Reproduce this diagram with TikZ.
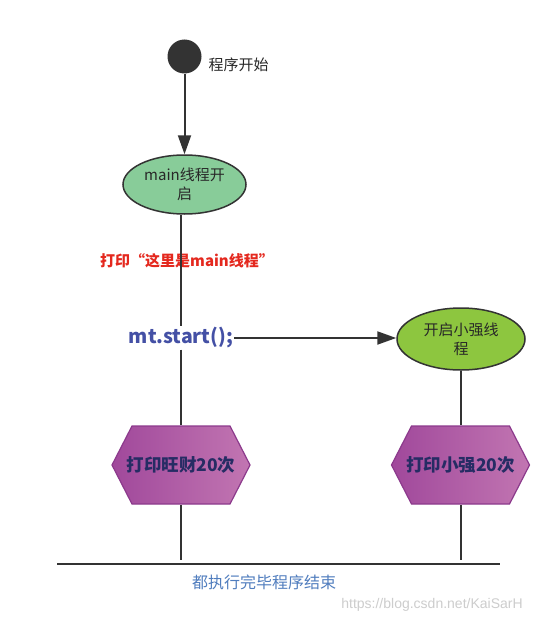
\documentclass[tikz,border=0pt]{standalone}
\usepackage{fontspec}
\setmainfont{Noto Sans CJK SC}
\newfontfamily\wmfont{Liberation Sans}
\usetikzlibrary{shapes.geometric,arrows.meta}
\definecolor{linec}{RGB}{51,51,51}
\definecolor{dotc}{RGB}{51,51,51}
\definecolor{textc}{RGB}{40,40,40}
\definecolor{greenA}{RGB}{136,204,153}
\definecolor{greenB}{RGB}{141,198,63}
\definecolor{hexl}{RGB}{160,72,155}
\definecolor{hexr}{RGB}{194,118,178}
\definecolor{hexb}{RGB}{140,58,140}
\definecolor{hext}{RGB}{38,44,100}
\definecolor{redc}{RGB}{228,40,30}
\definecolor{mtc}{RGB}{68,80,165}
\definecolor{endc}{RGB}{80,125,190}
\definecolor{wmc}{RGB}{205,205,205}
\begin{document}
\begin{tikzpicture}[x=1pt,y=-1pt,
  line/.style={draw=linec, line width=2pt},
  arr/.style={line, -{Triangle[length=19pt,width=13pt]}},
  startdot/.style={circle, fill=dotc, minimum size=34pt, inner sep=0},
  oval/.style={ellipse, draw=linec, line width=1.5pt, minimum width=123pt, minimum height=59pt, align=center, text=textc, font=\fontsize{15}{19}\selectfont, inner sep=0},
  hexa/.style={rectangle, minimum width=140pt, minimum height=80pt, inner sep=0, text=hext, font=\bfseries\fontsize{17.5}{20}\selectfont,
    path picture={
      \shadedraw[left color=hexl, right color=hexr, draw=hexb, line width=1.2pt]
        ([xshift=21pt,yshift=-1pt]path picture bounding box.north west) --
        ([xshift=-21pt,yshift=-1pt]path picture bounding box.north east) --
        ([xshift=-1pt]path picture bounding box.east) --
        ([xshift=-21pt,yshift=1pt]path picture bounding box.south east) --
        ([xshift=21pt,yshift=1pt]path picture bounding box.south west) --
        ([xshift=1pt]path picture bounding box.west) -- cycle;
    }},
  redtext/.style={text=redc, font=\bfseries\fontsize{15}{18}\selectfont, inner sep=1pt},
  mtstyle/.style={text=mtc, font=\bfseries\fontsize{19.5}{22}\selectfont, inner sep=1pt},
  lab/.style={text=textc, font=\fontsize{15}{18}\selectfont},
  endtext/.style={text=endc, font=\fontsize{16}{18}\selectfont},
  wmtext/.style={text=wmc, font=\wmfont\fontsize{14}{16}\selectfont}
]
\useasboundingbox (0,0) rectangle (544,623);
\fill[white] (0,0) rectangle (544,623);

\node[startdot] (s) at (184.5,56.5) {};
\node[lab, anchor=west] (slab) at (205,65) {程序开始};
\node[oval, fill=greenA] (e1) at (184.5,184.5) {main线程开\\启};
\node[redtext] (p1) at (187,261) {打印“这里是main线程”};
\node[mtstyle] (mt) at (181,338) {mt.start();};
\node[oval, fill=greenB, minimum width=128pt, minimum height=62pt] (e2) at (461,339) {开启小强线\\程};
\node[hexa] (h1) at (181,465) {打印旺财20次};
\node[hexa] (h2) at (460.5,465) {打印小强20次};
\coordinate (b1) at (181,560);
\coordinate (b2) at (461,560);
\coordinate (hl) at (57,564);
\coordinate (hr) at (500,564);
\node[endtext] (endt) at (264,582) {都执行完毕程序结束};
\node[wmtext] (wm) at (432,605) {https://blog.csdn.net/KaiSarH};

\draw[arr] (s) -- (e1);
\draw[line] (e1.south -| mt.center) -- (mt.north);
\draw[line] (mt.south) -- (h1.north);
\draw[arr] (mt.east) -- (e2.west |- mt.east);
\draw[line] (e2.south) -- (e2.south |- h2.north);
\draw[line] (h1.south) -- (b1);
\draw[line] (h2.south -| b2) -- (b2);
\draw[line] (hl) -- (hr);
\end{tikzpicture}
\end{document}
